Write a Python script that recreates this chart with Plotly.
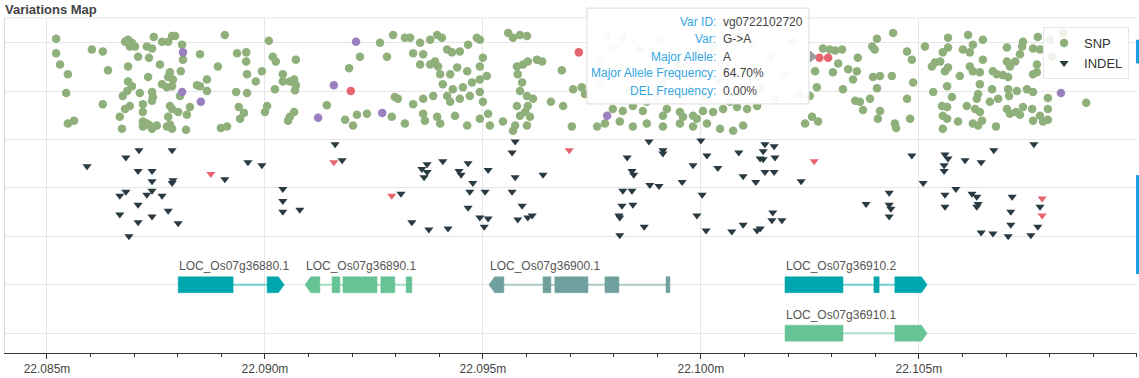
import plotly.graph_objects as go

# ---------------- data ----------------
# SNP (position bp, track value)
snp_common = [
(22085210,6.08),(22085210,5.78),(22085300,5.55),(22085480,5.35),(22085440,4.96),(22085480,4.33),(22085620,4.39),(22086030,5.86),(22086280,5.82),(22086400,5.43),
(22086280,4.73),(22086790,6.02),(22086860,6.06),(22086950,6.00),(22087020,5.92),(22086900,5.92),(22087090,5.71),(22087290,5.92),(22087410,5.88),(22087450,6.12),
(22087640,6.02),(22087780,6.02),(22087870,6.14),(22087940,6.14),(22088100,5.96),(22088120,5.65),(22087340,5.69),(22086860,5.51),(22087590,5.55),(22087320,5.29),
(22086860,5.20),(22086950,5.10),(22087820,5.39),(22087780,5.29),(22087890,5.24),(22087870,5.10),(22088070,5.41),(22087640,5.14),(22087750,5.08),(22088050,4.90),
(22086840,5.00),(22086740,4.90),(22087130,4.96),(22087410,4.98),(22087430,4.88),(22087410,4.80),(22087200,4.73),(22086900,4.69),(22086790,4.63),(22087200,4.57),
(22086670,4.47),(22087820,4.69),(22087870,4.63),(22088010,4.57),(22088280,4.67),(22088210,4.51),(22087780,4.47),(22087200,4.37),(22087290,4.33),(22087200,4.27),
(22087360,4.29),(22087520,4.29),(22086720,4.22),(22087410,4.22),(22087750,4.27),(22087820,4.31),(22087870,4.22),(22088190,4.20),(22088510,5.76),(22088670,5.24),
(22088440,5.12),(22088510,5.10),(22088670,5.00),(22088920,5.51),(22089080,6.16),(22088990,4.24),(22089130,4.27),(22089360,5.78),(22089570,5.80),(22089570,5.61),
(22089590,5.35),(22089340,4.98),(22089590,4.96),(22089400,4.67),(22089520,4.55),(22089430,4.43),(22089790,5.20),(22089930,5.41),(22090090,6.04),(22090050,4.69),
(22090000,4.57),(22090180,5.71),(22090250,5.61),(22090230,5.04),(22090410,5.35),(22090410,5.20),(22090570,5.20),(22090670,5.24),(22090710,5.12),(22090710,5.65),
(22090690,5.02),(22090670,4.57),(22090570,4.47),(22090530,4.39),(22091420,4.71),(22091930,5.47),(22092180,5.71),(22091840,4.41),(22092020,4.29),(22092110,4.51),
(22092340,4.53),(22092640,6.00),
(22092800,5.71),(22092940,6.16),(22093210,6.10),(22093330,6.10),(22093560,6.00),(22093790,6.06),(22093950,6.16),(22094060,6.10),(22093400,5.78),(22093630,5.76),
(22093560,5.55),(22093790,5.55),(22093900,5.61),(22093970,5.51),(22094180,5.86),(22094290,5.80),(22094470,5.82),(22094660,5.96),(22094860,6.10),(22094930,6.06),
(22094020,5.35),(22094250,5.35),(22094410,5.49),(22094640,5.41),(22094930,5.51),(22095000,5.69),(22094080,5.14),(22094310,5.04),(22094540,5.08),(22094750,5.18),
(22094930,5.24),(22095090,5.31),(22092980,4.88),(22093050,4.84),(22093400,4.73),(22093630,4.84),(22093860,4.90),(22094180,4.90),(22094250,4.78),(22094470,4.84),
(22094700,4.90),(22094930,4.98),(22095000,4.78),(22092910,4.47),(22093210,4.33),(22093630,4.53),(22093670,4.39),(22093950,4.47),(22094020,4.33),(22094360,4.49),
(22094640,4.29),(22094930,4.43),(22095120,4.53),(22095160,4.29),(22095580,6.20),(22095690,6.10),(22095850,6.16),(22096010,6.14),(22095780,5.51),(22095920,5.55),
(22096030,5.61),(22096240,5.65),(22096360,5.61),(22095800,5.35),(22095900,5.18),(22095850,5.00),(22096010,4.90),(22096150,4.84),(22095780,4.69),(22096810,5.43),
(22097070,5.04),(22097270,5.08),(22096560,4.78),(22096840,4.69),(22096030,4.69),(22095970,4.57),(22096080,4.47),(22095850,4.49),(22096010,4.29),(22095460,4.37),
(22095740,4.29),(22095690,4.18),(22097040,4.27),(22097620,4.27),(22097800,4.33),(22097980,4.63),(22098210,4.59),(22098440,4.69),(22098670,4.59),(22098760,4.78),
(22098990,4.84),(22099220,4.63),(22099520,4.57),(22099820,4.49),(22100050,4.59),(22100280,4.57),(22100510,4.63),(22100670,4.78),(22100830,4.67),(22101060,4.63),
(22101290,4.69),(22098140,4.37),(22098440,4.27),(22098760,4.33),(22099130,4.27),(22099520,4.33),(22099820,4.27),(22100140,4.33),(22100440,4.22),(22100740,4.18),
(22100970,4.29),(22099130,4.49),(22099590,4.47),(22099910,4.43),(22097850,6.12),(22098210,6.10),(22097980,5.90),(22097690,5.61),(22098140,5.49),(22098760,5.35),
(22099130,5.14),(22099520,5.55),(22099910,5.76),(22100280,5.90),(22100740,6.02),(22101200,5.96),(22101590,5.69),(22102110,6.02),(22098600,5.86),(22099060,6.06),
(22099750,5.04),(22100440,5.24),(22101010,5.45),(22101360,5.04),(22101930,5.35),(22098370,5.00),(22097690,5.14),(22097340,4.94),(22102270,4.94),(22102620,5.41),
(22102660,5.08),(22100100,4.88),(22101700,4.84),
(22102500,4.90),(22102390,4.33),(22102550,4.47),(22102690,4.37),(22102800,5.88),(22102960,5.86),(22103080,5.84),(22103240,5.86),(22103150,5.57),(22103030,5.39),
(22103380,5.45),(22103580,5.41),(22103600,5.69),(22103490,5.24),(22103260,5.04),(22103540,4.80),(22103650,4.78),(22103720,4.61),(22103880,4.84),(22103950,5.29),
(22104110,5.31),(22104040,5.06),(22103930,5.92),(22103990,5.86),(22104040,6.08),(22104410,6.20),(22104380,5.31),(22104110,4.59),(22104060,4.43),(22104450,4.33),
(22104480,4.24),(22104730,5.82),(22104840,5.65),(22104870,5.18),(22104730,4.84),(22104800,4.43),(22105140,5.92),(22105300,5.51),(22105370,5.59),(22105490,5.61),
(22105550,5.80),(22105670,5.90),(22105670,6.10),(22105600,5.41),(22105670,5.49),(22105650,5.10),(22105330,4.98),(22105760,4.88),(22105530,4.69),(22105650,4.67),
(22105550,4.49),(22105650,4.43),(22105550,4.22),(22105900,4.37),(22105940,5.31),(22106010,5.86),(22106170,5.80),(22106130,6.16),(22106240,5.96),(22106470,6.06),
(22106170,5.51),(22106240,5.41),(22106400,5.39),(22106470,5.65),(22106400,5.14),(22106680,5.04),(22106360,4.94),(22106330,4.84),(22106100,4.69),(22106290,4.63),
(22106400,4.57),(22106240,4.33),(22106360,4.29),(22106450,4.39),(22106770,4.27),(22106700,5.41),(22106790,5.35),(22106930,5.33),(22107050,5.29),(22106820,4.84),
(22106630,4.78),(22107020,5.90),(22107020,5.61),(22107090,5.51),(22107210,5.61),(22107320,5.76),(22107370,5.92),(22107390,6.02),(22107050,5.04),(22107070,4.90),
(22107250,5.00),(22107020,4.63),(22107090,4.53),(22107230,4.57),(22107320,4.51),(22107390,4.67),(22107600,4.63),(22107480,5.04),(22107620,4.98),(22107620,5.35),
(22107710,5.39),(22107710,5.55),(22107620,5.88),(22107730,6.12),(22107780,5.86),(22107620,4.39),(22107780,4.49),(22107850,4.37),(22107960,4.41),(22107960,4.63),
(22107960,4.86),(22108840,4.76),(22108010,6.06),(22108310,6.20),(22108060,5.71),
]
snp_purple = [(22088120,5.80),(22088100,4.98),(22088530,4.78),(22091220,4.45),(22091580,5.12),
              (22092090,6.02),(22092690,4.55),(22097850,4.49),(22108260,4.96)]
snp_red = [(22091970,5.00),(22097200,5.80),(22102720,5.69),(22102920,5.69)]

# INDEL (position bp, track value)
indel_common = [
(22091610,3.90),(22087110,3.78),(22087870,3.78),(22086810,3.63),(22085920,3.45),(22087090,3.35),(22087410,3.35),(22087410,3.14),(22087890,3.16),(22087870,3.10),
(22089080,3.18),(22089610,3.53),(22089930,3.47),(22091770,3.57),(22090410,2.98),(22090410,2.73),(22090410,2.51),(22090800,2.55),(22086670,2.84),(22086810,2.92),
(22087290,2.86),(22087410,2.94),(22087640,2.84),(22087090,2.65),(22086670,2.45),(22087410,2.41),(22087780,2.53),(22087090,2.29),(22088010,2.27),(22086880,2.00),
(22093120,2.88),(22095740,3.96),(22095670,3.73),(22093720,3.49),(22093600,3.39),(22093720,3.33),(22093650,3.22),(22094080,3.55),(22094450,3.35),(22094500,3.27),
(22094660,3.51),(22095120,3.37),(22095740,3.22),(22096380,3.27),(22094770,3.10),(22094700,2.92),(22095050,2.92),(22095670,2.92),(22094660,2.59),(22095900,2.63),
(22094930,2.39),(22095120,2.37),(22095030,2.20),(22095800,2.35),(22096030,2.39),(22096130,2.43),(22093370,2.29),(22093760,2.14),(22094200,2.16),
(22098810,3.96),(22099130,3.78),(22099130,3.71),(22098310,3.63),(22098420,3.35),(22098460,3.27),(22098830,3.06),(22099040,3.04),(22099570,3.12),(22099820,3.47),
(22100000,3.98),(22100140,3.67),(22100390,3.41),(22100870,3.73),(22100970,3.24),(22101260,3.12),(22101360,3.61),(22098210,2.94),(22098420,2.94),(22100030,2.86),
(22098190,2.63),(22098440,2.65),(22099910,2.43),(22098120,2.43),(22098140,2.39),(22098700,2.20),(22100120,2.12),(22100710,2.10),(22100970,2.24),(22101290,2.12),
(22098140,2.02),
(22101470,3.90),(22101680,3.86),(22101430,3.76),(22101430,3.59),(22101700,3.63),(22101470,3.33),(22101680,3.33),(22102300,3.14),(22104840,3.67),(22105600,3.69),
(22105670,3.61),(22105580,3.47),(22105580,3.35),(22105100,3.10),(22106060,3.57),(22106430,3.53),(22106720,3.78),(22107640,3.90),(22104320,2.90),(22103790,2.67),
(22104320,2.65),(22104360,2.57),(22104320,2.41),(22105600,2.86),(22105850,2.98),(22106220,2.88),(22106330,2.82),(22106360,2.67),(22106330,2.61),(22105600,2.61),
(22107140,2.82),(22107110,2.51),(22107110,2.24),(22107780,2.61),(22107730,2.20),(22101650,2.49),(22101630,2.33),(22101860,2.33),(22101360,2.16),(22106430,2.08),
(22106700,2.06),(22107050,2.00),(22107570,2.02),
]
indel_red = [(22088760,3.29),(22091580,3.53),(22092910,2.84),(22096980,3.78),(22102600,3.55),
             (22107830,2.78),(22107830,2.43)]

# genes
gene_names = ["LOC_Os07g36880.1", "LOC_Os07g36890.1", "LOC_Os07g36900.1",
              "LOC_Os07g36910.2", "LOC_Os07g36910.1"]
gene_rows = [1, 1, 1, 1, 0]
gene_strands = ["+", "-", "-", "+", "+"]
gene_exons = [
    [(22088010, 22089270), (22090050, 22090440)],
    [(22090920, 22091260), (22091540, 22091720), (22091790, 22092570), (22092660, 22092980), (22093240, 22093370)],
    [(22095140, 22095480), (22096380, 22096560), (22096650, 22097410), (22097800, 22098120), (22099200, 22099290)],
    [(22101930, 22103260), (22103970, 22104090), (22104450, 22105190)],
    [(22101930, 22103260), (22104450, 22105190)],
]
gene_colors = ["#00a6ad", "#66c396", "#6fa09d", "#00a6ad", "#66c396"]
intron_colors = ["#6fcfd2", "#a6dfc2", "#a9c8c6", "#6fcfd2", "#a6dfc2"]

tick_positions = [22085000, 22090000, 22095000, 22100000, 22105000]
tick_labels = ["22.085m", "22.090m", "22.095m", "22.100m", "22.105m"]

tooltip_labels = ["Var ID:", "Var:", "Major Allele:", "Major Allele Frequency:", "DEL Frequency:"]
tooltip_values = ["vg0722102720", "G->A", "A", "64.70%", "0.00%"]

# ---------------- styles ----------------
FONT = "Liberation Sans, Arial, sans-serif"
GREEN = "#8fb07b"
PURPLE = "#9b80c0"
RED = "#e8646e"
DARK = "#2a3a42"
HALF_H = 0.165
ARROW = 130

fig = go.Figure()

def exon_poly(s, e, row, kind):
    a = min(ARROW, e - s)
    if kind == "right":
        return [s, e - a, e, e - a, s, s], [row - HALF_H, row - HALF_H, row, row + HALF_H, row + HALF_H, row - HALF_H]
    if kind == "left":
        return [s, s + a, e, e, s + a, s], [row, row - HALF_H, row - HALF_H, row + HALF_H, row + HALF_H, row]
    return [s, e, e, s, s], [row - HALF_H, row - HALF_H, row + HALF_H, row + HALF_H, row - HALF_H]

annotations = []
for name, row, strand, exons, col, icol in zip(gene_names, gene_rows, gene_strands,
                                                gene_exons, gene_colors, intron_colors):
    start, end = exons[0][0], exons[-1][1]
    fig.add_trace(go.Scatter(x=[start, end], y=[row, row], mode="lines",
                             line=dict(color=icol, width=2), showlegend=False, hoverinfo="skip"))
    xs, ys = [], []
    for i, (s, e) in enumerate(exons):
        kind = "rect"
        if strand == "+" and i == len(exons) - 1:
            kind = "right"
        if strand == "-" and i == 0:
            kind = "left"
        px, py = exon_poly(s, e, row, kind)
        xs += px + [None]
        ys += py + [None]
    fig.add_trace(go.Scatter(x=xs, y=ys, mode="lines", fill="toself", fillcolor=col,
                             line=dict(color=col, width=0.5), showlegend=False, hoverinfo="skip"))
    annotations.append(dict(x=start, y=row + 0.38, xref="x", yref="y", text=name,
                            showarrow=False, xanchor="left", yanchor="middle", xshift=-1,
                            font=dict(family=FONT, size=12, color="#555")))

def add_points(data, name, color, symbol, size, show, rank):
    fig.add_trace(go.Scatter(
        x=[p for p, _ in data], y=[v for _, v in data], mode="markers", name=name,
        marker=dict(color=color, symbol=symbol, size=size, line=dict(width=0)),
        showlegend=show, legendrank=rank, hoverinfo="skip"))

add_points(indel_common, "INDEL", DARK, "triangle-down", 8, True, 2)
add_points(indel_red, "INDEL", RED, "triangle-down", 8, False, 5)
add_points(snp_common, "SNP", GREEN, "circle", 8.5, True, 1)
add_points(snp_purple, "SNP", PURPLE, "circle", 8.5, False, 3)
add_points(snp_red, "SNP", RED, "circle", 8.5, False, 4)

# title
annotations.append(dict(x=-0.002, y=1.0265, xref="paper", yref="paper", text="<b>Variations Map</b>",
                        showarrow=False, xanchor="left", yanchor="middle",
                        font=dict(family=FONT, size=13, color="#444")))

# hover tooltip (static)
line_y = [0.9882, 0.9381, 0.8850, 0.8348, 0.7817]
for lab, val, yy in zip(tooltip_labels, tooltip_values, line_y):
    annotations.append(dict(x=0.6299, y=yy, xref="paper", yref="paper", text=lab, showarrow=False,
                            xanchor="right", yanchor="middle",
                            font=dict(family=FONT, size=12, color="#35a6e2")))
    annotations.append(dict(x=0.6328, y=yy, xref="paper", yref="paper", text=val, showarrow=False,
                            xanchor="left", yanchor="middle",
                            font=dict(family=FONT, size=12, color="#444")))

shapes = [
    dict(type="line", xref="paper", yref="paper", x0=0, x1=1, y0=1, y1=1,
         line=dict(color="#e3e3e3", width=1)),
    dict(type="rect", xref="paper", yref="paper", x0=0.5141, x1=0.7102, y0=0.7434, y1=1.0295,
         fillcolor="rgba(255,255,255,0.93)", line=dict(color="#dcdcdc", width=1), layer="above"),
    dict(type="path", xref="paper", yref="paper",
         path="M 0.7111,0.9027 L 0.7175,0.8850 L 0.7111,0.8673 Z",
         fillcolor="#9a9a9a", line=dict(width=0), layer="above"),
    dict(type="rect", xref="paper", yref="paper", x0=0.9991, x1=1.003, y0=0.8643, y1=0.9351,
         fillcolor="#1e9fe3", line=dict(width=0)),
    dict(type="rect", xref="paper", yref="paper", x0=0.9991, x1=1.003, y0=0.2360, y1=0.5310,
         fillcolor="#1e9fe3", line=dict(width=0)),
]

fig.update_layout(
    width=1139, height=378,
    margin=dict(l=5, r=2, t=18, b=21),
    paper_bgcolor="white", plot_bgcolor="white",
    font=dict(family=FONT, size=12, color="#444"),
    showlegend=True,
    legend=dict(x=0.917, y=0.973, xanchor="left", yanchor="top",
                bgcolor="rgba(255,255,255,0.85)", bordercolor="#e6e6e6", borderwidth=1,
                font=dict(family=FONT, size=13, color="#333"), tracegroupgap=0),
    annotations=annotations,
    shapes=shapes,
    xaxis=dict(range=[22084037, 22110005], tickmode="array", tickvals=tick_positions,
               ticktext=tick_labels, ticks="outside", ticklen=5, tickcolor="#333",
               showline=True, linecolor="#333", linewidth=1,
               showgrid=True, gridcolor="#e6e6e6", zeroline=False,
               tickfont=dict(family=FONT, size=12, color="#444"),
               minor=dict(tickmode="linear", tick0=22085000, dtick=1000, ticks="outside",
                          ticklen=3, tickcolor="#333", showgrid=False)),
    yaxis=dict(range=[-0.41, 6.51], tickmode="linear", tick0=0, dtick=1,
               showticklabels=False, ticks="", showgrid=True, gridcolor="#e6e6e6",
               zeroline=False, showline=True, linecolor="#d9d9d9", linewidth=1),
)

fig.write_html("out.html", config={"displayModeBar": False},
               post_script="document.body.style.margin='0';document.body.style.overflow='hidden';")
